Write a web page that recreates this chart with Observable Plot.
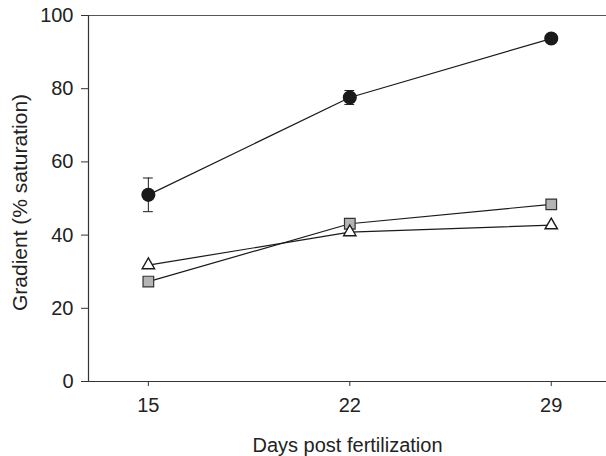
<!DOCTYPE html>
<html><head><meta charset="utf-8">
<script src="https://cdn.jsdelivr.net/npm/d3@7"></script>
<script src="https://cdn.jsdelivr.net/npm/@observablehq/plot@0.6"></script>
<style>body{margin:0;background:#fff}</style>
</head><body><div id="chart"></div>
<script>
const days = [15, 22, 29];
const circleMean = [51.0, 77.6, 93.7];
const circleErr = [4.6, 1.9, 1.0];
const squareMean = [27.3, 43.1, 48.4];
const triangleMean = [31.8, 40.8, 42.7];
const xTicks = [15, 22, 29];
const yTicks = [0, 20, 40, 60, 80, 100];
const xLabel = "Days post fertilization";
const yLabel = "Gradient (% saturation)";

const circles = days.map((d, i) => ({day: d, v: circleMean[i], lo: circleMean[i] - circleErr[i], hi: circleMean[i] + circleErr[i]}));
const squares = days.map((d, i) => ({day: d, v: squareMean[i]}));
const triangles = days.map((d, i) => ({day: d, v: triangleMean[i]}));
const xDomain = [12.92, 30.92];
const capHalf = 0.17;

const ink = "#1a1a1a";
const chart = Plot.plot({
  width: 606, height: 456,
  marginLeft: 88, marginRight: 0, marginTop: 15, marginBottom: 75,
  style: {fontFamily: "'Liberation Sans', Arial, sans-serif", fontSize: "20px", color: "#222", background: "#fff"},
  x: {domain: xDomain},
  y: {domain: [0, 100]},
  marks: [
    Plot.axisX({ticks: xTicks, tickSize: 5, tickPadding: 11, tickFormat: d => String(d), label: null, stroke: "#333", fontSize: 20}),
    Plot.axisY({ticks: yTicks, tickSize: 7, tickPadding: 8, label: null, stroke: "#333", fontSize: 20}),
    Plot.text([xLabel], {frameAnchor: "bottom", textAnchor: "middle", dy: 70, fontSize: 20, fill: "#222"}),
    Plot.text([yLabel], {frameAnchor: "left", textAnchor: "middle", lineAnchor: "middle", rotate: -90, dx: -68, dy: 4, fontSize: 21, fill: "#222"}),
    Plot.ruleY([0], {stroke: "#333", strokeWidth: 1.2}),
    Plot.ruleY([100], {stroke: "#555", strokeWidth: 1.2}),
    Plot.ruleX([xDomain[0]], {stroke: "#333", strokeWidth: 1.2}),
    Plot.ruleX(circles, {x: "day", y1: "lo", y2: "hi", stroke: ink}),
    Plot.ruleY(circles, {y: "lo", x1: d => d.day - capHalf, x2: d => d.day + capHalf, stroke: ink}),
    Plot.ruleY(circles, {y: "hi", x1: d => d.day - capHalf, x2: d => d.day + capHalf, stroke: ink}),
    Plot.line(circles, {x: "day", y: "v", stroke: ink, strokeWidth: 1.2}),
    Plot.line(squares, {x: "day", y: "v", stroke: ink, strokeWidth: 1.2}),
    Plot.line(triangles, {x: "day", y: "v", stroke: ink, strokeWidth: 1.2}),
    Plot.dot(circles, {x: "day", y: "v", r: 6.3, fill: ink, stroke: ink, symbol: "circle"}),
    Plot.dot(squares, {x: "day", y: "v", r: 6, fill: "#b4b4b4", stroke: "#333", strokeWidth: 1.2, symbol: "square"}),
    Plot.dot(triangles, {x: "day", y: "v", r: 4.6, fill: "#fff", stroke: ink, strokeWidth: 1.4, symbol: "triangle"})
  ]
});
document.getElementById("chart").appendChild(chart);
</script>
</body></html>
